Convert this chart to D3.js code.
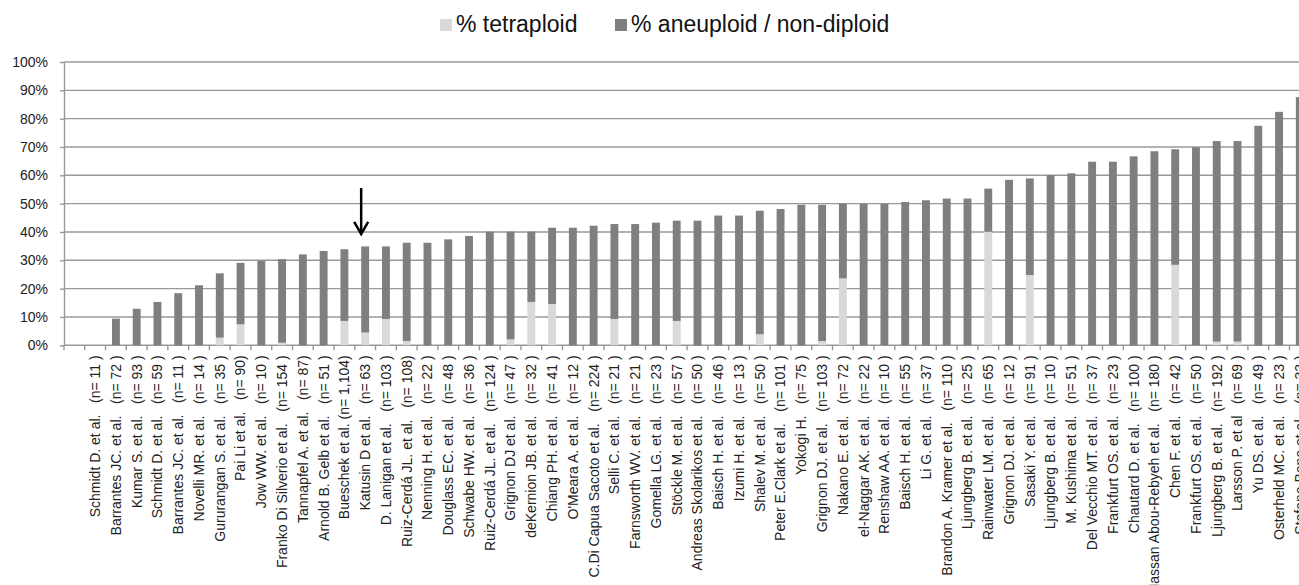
<!DOCTYPE html>
<html>
<head>
<meta charset="utf-8">
<script src="https://cdn.jsdelivr.net/npm/d3@7"></script>
<style>
  body { margin: 0; background: #fff; }
  svg { display: block; }
  .xlab { white-space: pre; }
</style>
</head>
<body>
<div id="chart"></div>
<script>
// Studies (first slot is an empty category, as in the original sheet)
const studies = [
    "",
    "Schmidt D. et al.   (n= 11 )",
    "Barrantes JC. et al.   (n= 72 )",
    "Kumar S. et al.   (n= 93 )",
    "Schmidt D. et al.   (n= 59 )",
    "Barrantes JC. et al.   (n= 11 )",
    "Novelli MR. et al.   (n= 14 )",
    "Gururangan S. et al.   (n= 35 )",
    "Pai Li et al.   (n= 90)",
    "Jow WW. et al.   (n= 10 )",
    "Franko Di Silverio et al.   (n= 154 )",
    "Tannapfel A. et al.   (n= 87)",
    "Arnold B. Gelb et al.   (n= 51 )",
    "Bueschek et al. (n= 1,104)",
    "Katusin D et al.   (n= 63 )",
    "D. Lanigan et al.   (n= 103 )",
    "Ruiz-Cerdá JL. et al.   (n= 108)",
    "Nenning H. et al.   (n= 22 )",
    "Douglass EC. et al.   (n= 48 )",
    "Schwabe HW. et al.   (n= 36 )",
    "Ruiz-Cerdá JL. et al.   (n= 124 )",
    "Grignon DJ et al.   (n= 47 )",
    "deKernion JB. et al.   (n= 32 )",
    "Chiang PH. et al.   (n= 41 )",
    "O'Meara A. et al.   (n= 12 )",
    "C.Di Capua Sacoto et al.   (n= 224 )",
    "Selli C. et al.   (n= 21 )",
    "Farnsworth WV. et al.   (n= 21 )",
    "Gomella LG. et al.   (n= 23 )",
    "Stöckle M. et al.   (n= 57 )",
    "Andreas Skolarikos et al.   (n= 50 )",
    "Baisch H. et al.   (n= 46 )",
    "Izumi H. et al.   (n= 13 )",
    "Shalev M. et al.   (n= 50 )",
    "Peter E.Clark et al.   (n= 101 )",
    "Yokogi H.   (n= 75 )",
    "Grignon DJ. et al.   (n= 103 )",
    "Nakano E. et al.   (n= 72 )",
    "el-Naggar AK. et al.   (n= 22 )",
    "Renshaw AA. et al.   (n= 10 )",
    "Baisch H. et al.   (n= 55 )",
    "Li G. et al.   (n= 37 )",
    "Brandon A. Kramer et al.   (n= 110 )",
    "Ljungberg B. et al.   (n= 25 )",
    "Rainwater LM. et al.   (n= 65 )",
    "Grignon DJ. et al.   (n= 12 )",
    "Sasaki Y. et al.   (n= 91 )",
    "Ljungberg B. et al.   (n= 10 )",
    "M. Kushima et al.   (n= 51 )",
    "Del Vecchio MT. et al.   (n= 37 )",
    "Frankfurt OS. et al.   (n= 23 )",
    "Chautard D. et al.   (n= 100 )",
    "Hassan Abou-Rebyeh et al.   (n= 180 )",
    "Chen F. et al.   (n= 42 )",
    "Frankfurt OS. et al.   (n= 50 )",
    "Ljungberg B. et al.   (n= 192 )",
    "Larsson P. et al   (n= 69 )",
    "Yu DS. et al.   (n= 49 )",
    "Osterheld MC. et al.   (n= 23 )",
    "Stefano Bono et al.   (n= 33 )"
];

// % tetraploid (bottom segment)
const tetraploid = [
    0, 0, 0, 0, 0, 0, 0, 2.7, 7.4, 0,
    0.9, 0, 0, 8.6, 4.5, 9.3, 1.5, 0, 0, 0,
    0, 2.1, 15.3, 14.6, 0, 0, 9.3, 0, 0, 8.6,
    0, 0, 0, 3.9, 0, 0, 1.5, 23.6, 0, 0,
    0, 0, 0, 0, 40.1, 0, 24.8, 0, 0, 0,
    0, 0, 0, 28.4, 0, 1.3, 1.3, 0, 0, 0
];

// % aneuploid / non-diploid (top segment)
const aneuploid = [
    0, 0, 9.4, 12.9, 15.3, 18.4, 21.2, 22.7, 21.7, 29.8,
    29.5, 32.1, 33.3, 25.3, 30.4, 25.6, 34.7, 36.2, 37.4, 38.6,
    40.1, 38.0, 24.8, 26.9, 41.5, 42.2, 33.5, 42.8, 43.3, 35.4,
    44.0, 45.8, 45.8, 43.6, 48.1, 49.6, 48.1, 26.4, 50.0, 49.9,
    50.6, 51.2, 51.8, 51.8, 15.2, 58.4, 34.1, 60.1, 60.7, 64.8,
    64.8, 66.7, 68.5, 40.8, 69.9, 70.8, 70.8, 77.5, 82.4, 87.6
];

const yTicks = [0, 10, 20, 30, 40, 50, 60, 70, 80, 90, 100];

const seriesNames = ["% tetraploid", "% aneuploid / non-diploid"];
const seriesColors = ["#d9d9d9", "#7f7f7f"];

const W = 1299, H = 585;
const plotLeft = 64, plotTop = 62, plotBottom = 345.3;
const step = 20.77;

const rows = studies.map((s, i) => ({ key: i, label: s, tetra: tetraploid[i], aneu: aneuploid[i] }));

const svg = d3.select("#chart").append("svg")
    .attr("width", W)
    .attr("height", H)
    .style("font-family", "'Liberation Sans', Arial, sans-serif");

svg.append("rect").attr("width", W).attr("height", H).attr("fill", "#fff");

const x = d3.scaleBand()
    .domain(rows.map(d => d.key))
    .range([plotLeft, plotLeft + step * rows.length])
    .paddingInner(0.62)
    .paddingOuter(0.31);

const y = d3.scaleLinear()
    .domain([0, 100])
    .range([plotBottom, plotTop]);

// gridlines
svg.append("g")
    .selectAll("line")
    .data(yTicks)
    .join("line")
    .attr("x1", plotLeft)
    .attr("x2", plotLeft + step * rows.length)
    .attr("y1", d => y(d))
    .attr("y2", d => y(d))
    .attr("stroke", "#999")
    .attr("stroke-width", 1.4);

// y axis
const yAxis = svg.append("g")
    .attr("transform", `translate(${plotLeft},0)`)
    .call(d3.axisLeft(y).tickValues(yTicks).tickFormat(d => d + "%").tickSizeInner(4).tickSizeOuter(0).tickPadding(12));
yAxis.select(".domain").attr("stroke", "#999").attr("stroke-width", 1.4);
yAxis.selectAll(".tick line").attr("stroke", "#999").attr("stroke-width", 1.4);
yAxis.selectAll(".tick text")
    .attr("fill", "#222")
    .style("font-size", "14px")
    .style("font-family", "'Liberation Sans', Arial, sans-serif");

// x tick marks at category boundaries
const gap = x.step() - x.bandwidth();
const bounds = rows.map(d => x(d.key) - gap / 2).concat([x(rows.length - 1) + x.bandwidth() + gap / 2]);
svg.append("g")
    .selectAll("line")
    .data(bounds)
    .join("line")
    .attr("x1", d => d)
    .attr("x2", d => d)
    .attr("y1", plotBottom)
    .attr("y2", plotBottom + 5)
    .attr("stroke", "#999")
    .attr("stroke-width", 1.4);

// stacked bars
const stack = d3.stack().keys(["tetra", "aneu"])(rows);
svg.append("g")
    .selectAll("g")
    .data(stack)
    .join("g")
    .attr("fill", (d, i) => seriesColors[i])
    .selectAll("rect")
    .data(d => d)
    .join("rect")
    .attr("x", d => x(d.data.key))
    .attr("width", x.bandwidth())
    .attr("y", d => y(d[1]))
    .attr("height", d => y(d[0]) - y(d[1]));

// category labels
svg.append("g")
    .selectAll("text")
    .data(rows)
    .join("text")
    .attr("class", "xlab")
    .attr("transform", d => `translate(${x(d.key) + x.bandwidth() / 2},${plotBottom + 10}) rotate(-90)`)
    .attr("text-anchor", "end")
    .attr("dy", "0.35em")
    .attr("fill", "#222")
    .style("font-size", "14px")
    .text(d => d.label);

// arrow pointing at Katusin D et al.
const ax = x(14) + x.bandwidth() / 2 - 4;
svg.append("line")
    .attr("x1", ax).attr("x2", ax)
    .attr("y1", y(55.5)).attr("y2", y(39.6))
    .attr("stroke", "#000")
    .attr("stroke-width", 2.5);
svg.append("path")
    .attr("d", `M${ax - 7},${y(43.6)} L${ax},${y(39.3)} L${ax + 7},${y(43.6)}`)
    .attr("fill", "none")
    .attr("stroke", "#000")
    .attr("stroke-width", 2.5);

// legend
const legendX = [440, 615];
const legend = svg.append("g");
seriesNames.forEach((name, i) => {
    legend.append("rect")
        .attr("x", legendX[i])
        .attr("y", 19)
        .attr("width", 12)
        .attr("height", 12)
        .attr("fill", seriesColors[i]);
    legend.append("text")
        .attr("x", legendX[i] + 16)
        .attr("y", 32)
        .attr("fill", "#111")
        .style("font-size", "23px")
        .text(name);
});
</script>
</body>
</html>
